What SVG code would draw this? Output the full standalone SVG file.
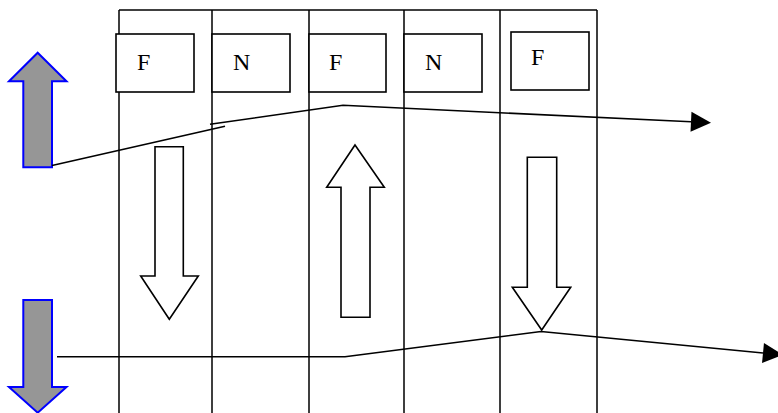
<svg xmlns="http://www.w3.org/2000/svg" width="778" height="413" viewBox="0 0 778 413">
  <style>
    .frame { fill: none; stroke: #000; stroke-width: 1.5; }
    .box { fill: #fff; stroke: #000; stroke-width: 1.6; }
    .label { font-family: "Liberation Serif", "Times New Roman", serif; font-size: 24px; fill: #000; }
    .hollow { fill: #fff; stroke: #000; stroke-width: 1.6; stroke-linejoin: miter; }
    .solid { fill: #969696; stroke: #0000ff; stroke-width: 2; stroke-linejoin: miter; }
    .link { fill: none; stroke: #000; stroke-width: 1.6; }
  </style>
  <defs>
    <marker id="head" markerUnits="userSpaceOnUse" markerWidth="20" markerHeight="20" refX="0" refY="10" orient="auto" overflow="visible">
      <path d="M0,0 L20,10 L0,20 Z" fill="#000"/>
    </marker>
  </defs>
  <rect width="778" height="413" fill="#fff"/>

  <!-- column frame -->
  <g id="columns" class="frame">
    <path d="M119,10 H597"/>
    <path d="M119,10 V413 M212,10 V413 M309,10 V413 M404,10 V413 M500,10 V413 M597,10 V413"/>
  </g>

  <!-- labelled boxes -->
  <g id="box1"><rect class="box" x="116" y="34" width="78" height="58"/><text class="label" x="137" y="70">F</text></g>
  <g id="box2"><rect class="box" x="212" y="34" width="78" height="58"/><text class="label" x="233" y="70">N</text></g>
  <g id="box3"><rect class="box" x="309" y="34" width="77" height="58"/><text class="label" x="329" y="70">F</text></g>
  <g id="box4"><rect class="box" x="404" y="34" width="78" height="58"/><text class="label" x="425" y="70">N</text></g>
  <g id="box5"><rect class="box" x="511" y="32" width="78" height="58"/><text class="label" x="531" y="65">F</text></g>

  <!-- hollow flow arrows -->
  <g id="flow-down-1"><polygon class="hollow" points="155,146.7 183.3,146.7 183.3,276 198.3,276 169.3,319.3 140.7,276 155,276"/></g>
  <g id="flow-up"><polygon class="hollow" points="355,145 384.3,187.3 370,187.3 370,317.3 341,317.3 341,187.3 326.7,187.3"/></g>
  <g id="flow-down-2"><polygon class="hollow" points="527.3,157.3 556.7,157.3 556.7,287.3 570.7,287.3 541.7,330 512.3,287.3 527.3,287.3"/></g>

  <!-- filled side arrows -->
  <g id="side-up"><polygon class="solid" points="37.7,52.7 66.5,81.3 52,81.3 52,167.3 23.3,167.3 23.3,81.3 9,81.3"/></g>
  <g id="side-down"><polygon class="solid" points="23.3,300 52,300 52,387 66.5,387 37.7,412.7 9,387 23.3,387"/></g>

  <!-- connectors -->
  <g id="connectors" class="link">
    <path d="M52,165.5 L225,126.3"/>
    <path d="M210,124.3 L343,105.3 L691,121.8" marker-end="url(#head)"/>
    <path d="M57,356.7 L345,356.7 L541,331.5 L763,353" marker-end="url(#head)"/>
  </g>
</svg>
